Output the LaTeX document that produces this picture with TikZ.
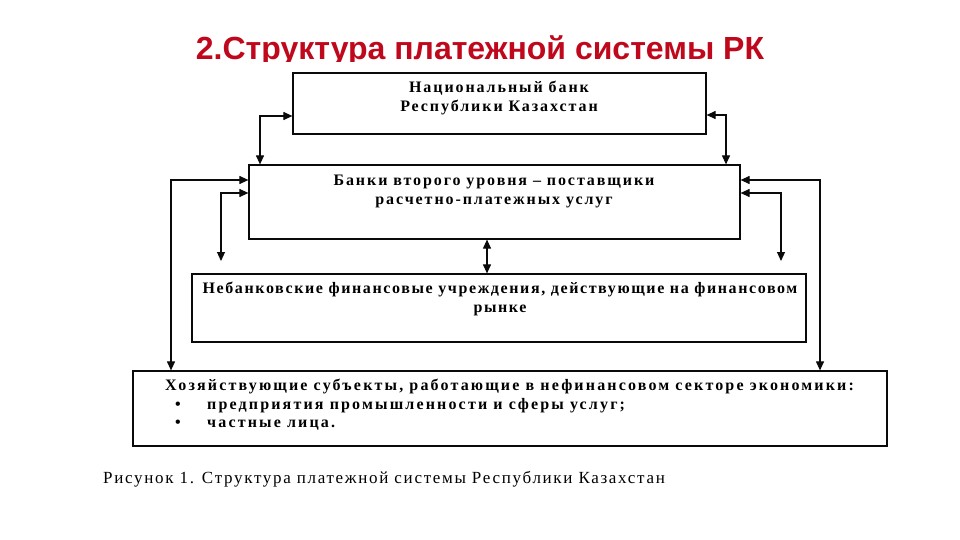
\documentclass[tikz,border=0pt]{standalone}
\usepackage{fontspec}
\setmainfont{Liberation Serif}
\newfontfamily\titlefont{Liberation Sans}
\newfontfamily\boxfont{Liberation Serif}[LetterSpace=12]
\newfontfamily\capfont{Liberation Serif}[LetterSpace=10]
\usepackage{xcolor}
\definecolor{TitleRed}{RGB}{192,8,28}
\definecolor{LineBlack}{RGB}{10,10,10}
\usetikzlibrary{arrows.meta}
\tikzset{
  % plain framed box, text is set apart
  frame/.style={
    rectangle, draw=LineBlack, line width=1.2pt,
    inner sep=0pt, fill=white
  },
  % bold text inside the boxes
  boxtext/.style={
    anchor=north, align=center, inner sep=0pt,
    font=\boxfont\bfseries\fontsize{16}{18.5}\selectfont
  },
  % arrows
  link/.style={
    {Triangle[length=9pt,width=8pt]}-{Triangle[length=9pt,width=8pt]},
    line width=1.1pt, LineBlack
  },
}
\begin{document}
\begin{tikzpicture}[x=1pt,y=-1pt]
  \useasboundingbox (0,0) rectangle (960,540);

  %% Title (lower edge is covered by the figure)
  \begin{scope}
    \clip (0,0) rectangle (960,62);
    \node[anchor=base, inner sep=0pt, text=TitleRed,
      font=\titlefont\bfseries\fontsize{32}{36}\selectfont]
      (title) at (480,60) {2.Структура платежной системы РК};
  \end{scope}

  %% Boxes
  \node[frame, minimum width=413pt, minimum height=61pt] (nb)  at (499.5,103.5) {};
  \node[frame, minimum width=491pt, minimum height=74pt] (bvu) at (494.5,202) {};
  \node[frame, minimum width=614pt, minimum height=68pt] (nfo) at (499,308) {};
  \node[frame, minimum width=754pt, minimum height=75pt] (hs)  at (510,408.5) {};

  %% Box texts
  \node[boxtext] (nbtxt)  at (499,81)  {Национальный банк\\Республики Казахстан};
  \node[boxtext] (bvutxt) at (494,175) {Банки второго уровня – поставщики\\расчетно-платежных услуг};
  \node[boxtext] (nfotxt) at (500,282)
    {\addfontfeature{LetterSpace=10}Небанковские финансовые учреждения, действующие на финансовом\\
     \addfontfeature{LetterSpace=10}рынке};
  \node[boxtext, anchor=north west, align=left] (hstxt) at (165,379)
    {\addfontfeature{LetterSpace=13.5}Хозяйствующие субъекты, работающие в нефинансовом секторе экономики:\\
     \makebox[42pt][l]{\hspace{10pt}\textbullet}\addfontfeature{LetterSpace=13.5}предприятия промышленности и сферы услуг;\\
     \makebox[42pt][l]{\hspace{10pt}\textbullet}\addfontfeature{LetterSpace=13.5}частные лица.};

  %% Caption
  \node[anchor=base west, inner sep=0pt,
    font=\capfont\fontsize{17}{20}\selectfont]
    (cap) at (103,483) {Рисунок 1. Структура платежной системы Республики Казахстан};

  %% Bends of the connectors
  \coordinate (nbl)  at (260,116);
  \coordinate (nbr)  at (726,115);
  \coordinate (lout) at (171,180);
  \coordinate (lin)  at (221,193);
  \coordinate (linE) at (221,261);
  \coordinate (rout) at (820,180);
  \coordinate (rin)  at (781,193);
  \coordinate (rinE) at (781,261);
  \coordinate (mid)  at (487,0);

  %% Connectors
  \draw[link] (nb.west |- nbl) -- (nbl) -- (nbl |- bvu.north);
  \draw[link] (nb.east |- nbr) -- (nbr) -- (nbr |- bvu.north);
  \draw[link] (bvu.west |- lout) -- (lout) -- (lout |- hs.north);
  \draw[link] (bvu.west |- lin) -- (lin) -- (linE);
  \draw[link] (bvu.east |- rout) -- (rout) -- (rout |- hs.north);
  \draw[link] (bvu.east |- rin) -- (rin) -- (rinE);
  \draw[link] (mid |- bvu.south) -- (mid |- nfo.north);
\end{tikzpicture}
\end{document}
